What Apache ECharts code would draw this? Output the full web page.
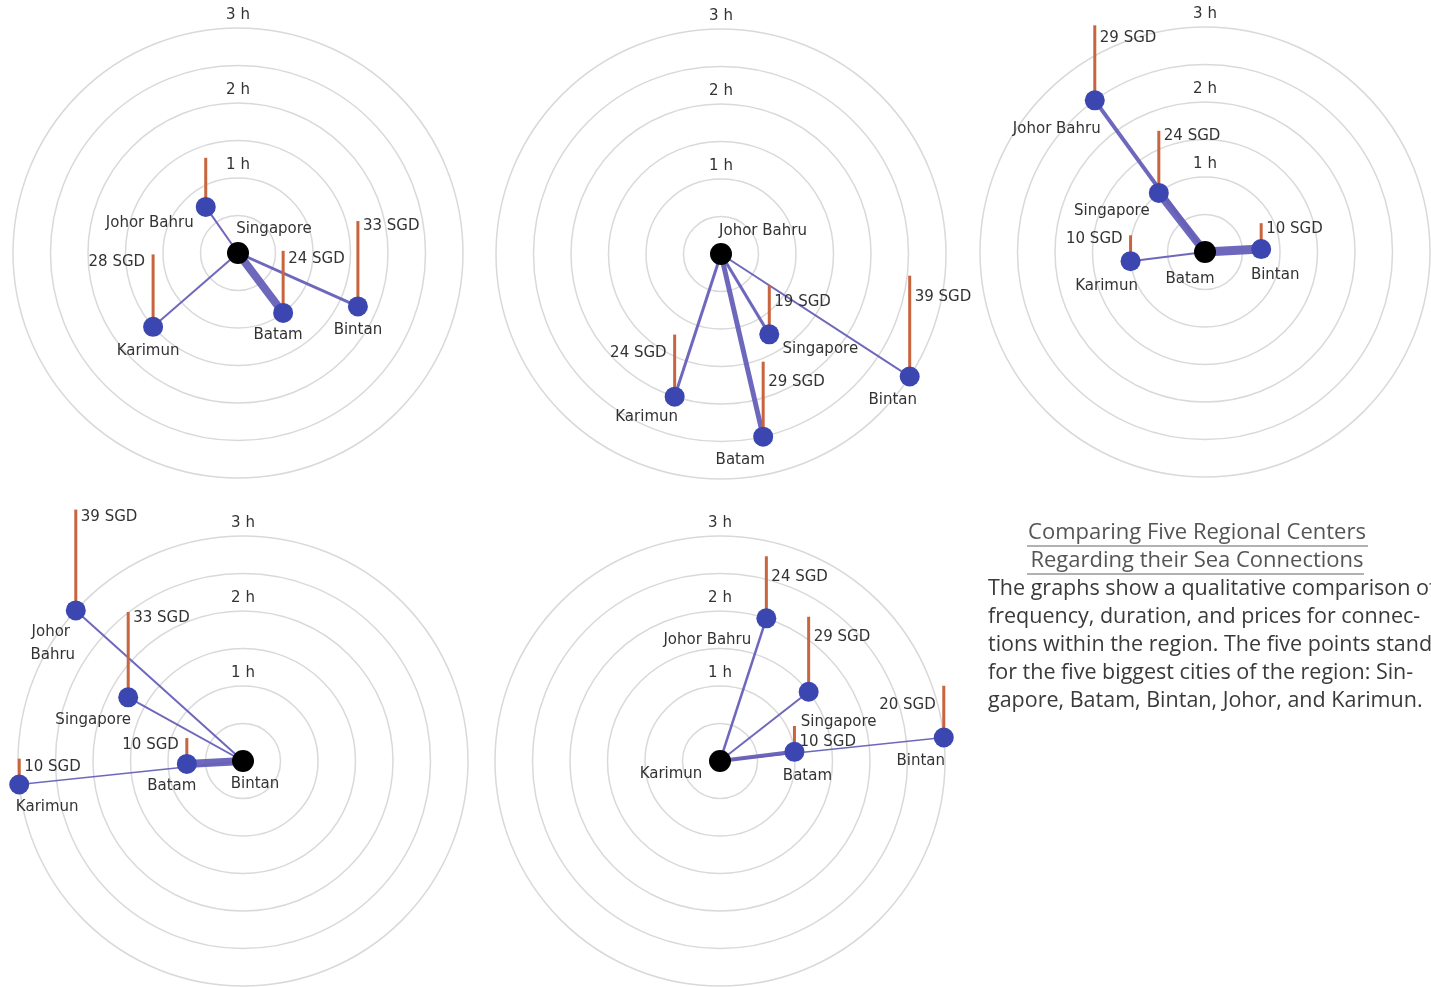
<!DOCTYPE html>
<html>
<head>
<meta charset="utf-8">
<script src="https://cdn.jsdelivr.net/npm/echarts@6/dist/echarts.min.js"></script>
<style>
  html, body { margin: 0; padding: 0; background: #ffffff; }
  #chart { width: 1431px; height: 987px; }
</style>
</head>
<body>
<div id="chart"></div>
<script>
// Ring ticks (travel time in hours)
const HOUR_TICKS = [1, 2, 3];
const HOUR_LABELS = ['1 h', '2 h', '3 h'];

// Hub order of the five panels
const HUBS = ['Singapore', 'Johor Bahru', 'Batam', 'Bintan', 'Karimun'];

// Singapore
const sgDest    = ['Johor Bahru', 'Batam', 'Bintan', 'Karimun'];
const sgHours   = [0.75, 1.0, 1.75, 1.5];
const sgBearing = [125, 307, 336, 221];
const sgFare    = [19, 24, 33, 28];
const sgFreq    = [2, 8, 3, 2];

// Johor Bahru
const jbDest    = ['Singapore', 'Batam', 'Karimun', 'Bintan'];
const jbHours   = [1.25, 2.5, 2.0, 3.0];
const jbBearing = [301, 283, 252, 327];
const jbFare    = [19, 29, 24, 39];
const jbFreq    = [3, 5, 3, 2];

// Batam
const btDest    = ['Johor Bahru', 'Singapore', 'Bintan', 'Karimun'];
const btHours   = [2.5, 1.0, 0.75, 1.0];
const btBearing = [126, 128, 3, 187];
const btFare    = [29, 24, 10, 10];
const btFreq    = [4, 8, 9, 2];

// Bintan
const bnDest    = ['Johor Bahru', 'Singapore', 'Batam', 'Karimun'];
const bnHours   = [3.0, 1.75, 0.75, 3.0];
const bnBearing = [138, 151, 183, 186];
const bnFare    = [39, 33, 10, 10];
const bnFreq    = [2, 2, 8, 1.5];

// Karimun
const krDest    = ['Johor Bahru', 'Singapore', 'Batam', 'Bintan'];
const krHours   = [2.0, 1.5, 1.0, 3.0];
const krBearing = [72, 38, 7, 6];
const krFare    = [24, 29, 10, 20];
const krFreq    = [2.5, 2, 4, 1.5];

// Fare stick height: one hour of ring radius stands for this many SGD
const SGD_PER_HOUR = 29;

const TITLE_LINES = ['Comparing Five Regional Centers', 'Regarding their Sea Connections'];
const BODY_LINES = [
  'The graphs show a qualitative comparison of',
  'frequency, duration, and prices for connec-',
  'tions within the region. The five points stand',
  'for the five biggest cities of the region: Sin-',
  'gapore, Batam, Bintan, Johor, and Karimun.'
];

// ---- layout and styling ----
const panels = [
  { hub: HUBS[0], dest: sgDest, hours: sgHours, bearing: sgBearing, fare: sgFare, freq: sgFreq,
    center: [238, 253], hubLabel: [36, -24],
    nameOff: [[-56, 16], [-5, 22], [0, 24], [-5, 24]],
    fareLab: [null, ['r', 8], ['r', 5], ['l', 8]] },
  { hub: HUBS[1], dest: jbDest, hours: jbHours, bearing: jbBearing, fare: jbFare, freq: jbFreq,
    center: [721, 254], hubLabel: [42, -23],
    nameOff: [[51, 15], [-23, 23], [-28, 20], [-17, 24]],
    fareLab: [['r', 17], ['r', 20], ['l', 19], ['r', 21]] },
  { hub: HUBS[2], dest: btDest, hours: btHours, bearing: btBearing, fare: btFare, freq: btFreq,
    center: [1205, 252], hubLabel: [-15, 27],
    nameOff: [[-38, 29], [-47, 18], [14, 26], [-24, 25]],
    fareLab: [['r', 13], ['r', 5], ['r', 6], ['l', 4]] },
  { hub: HUBS[3], dest: bnDest, hours: bnHours, bearing: bnBearing, fare: bnFare, freq: bnFreq,
    center: [243, 761], hubLabel: [12, 23],
    nameOff: [[-25, 22], [-35, 23], [-15, 22], [28, 23]],
    fareLab: [['r', 8], ['r', 6], ['l', 7], ['r', 8]] },
  { hub: HUBS[4], dest: krDest, hours: krHours, bearing: krBearing, fare: krFare, freq: krFreq,
    center: [720, 761], hubLabel: [-49, 13],
    nameOff: [[-59, 22], [30, 30], [13, 24], [-23, 24]],
    fareLab: [['r', 21], ['r', 20], ['r', 16], ['l', 19]] }
];

const RING_RADIUS = 225;
const LABEL_FONT = '15px "DejaVu Sans", sans-serif';
const LABEL_COLOR = '#333333';
const LINK_COLOR = '#6660b8';
const DOT_COLOR = '#3b46b0';
const FARE_COLOR = '#c8643e';

function textEl(x, y, text, align) {
  return {
    type: 'text', x: x, y: y,
    style: {
      text: text, font: LABEL_FONT, fill: LABEL_COLOR,
      align: align || 'center', verticalAlign: 'middle',
      textAlign: align || 'center', textVerticalAlign: 'middle',
      lineHeight: 23
    }
  };
}

const polar = [], angleAxis = [], radiusAxis = [], series = [];

panels.forEach(function (pn, i) {
  polar.push({ center: pn.center, radius: RING_RADIUS });
  angleAxis.push({ polarIndex: i, type: 'value', min: 0, max: 360, startAngle: 0, clockwise: false, show: false });
  radiusAxis.push({
    polarIndex: i, type: 'value', min: 0, max: 3, interval: 0.5,
    axisLine: { show: false }, axisTick: { show: false }, axisLabel: { show: false },
    splitLine: { show: true, lineStyle: { color: '#d9d9d9', width: 1.5 } }
  });

  const pts = pn.dest.map(function (d, k) {
    return [pn.hours[k], pn.bearing[k], pn.fare[k], pn.freq[k]];
  });

  // ring captions above the top of each full hour ring
  series.push({
    type: 'custom', coordinateSystem: 'polar', polarIndex: i, silent: true, z: 1,
    data: HOUR_TICKS.map(function (h) { return [h, 90]; }),
    renderItem: function (params, api) {
      const p = api.coord([api.value(0), api.value(1)]);
      return textEl(p[0], p[1] - 13, HOUR_LABELS[params.dataIndex]);
    }
  });

  // connections from the hub, width by frequency
  series.push({
    type: 'custom', coordinateSystem: 'polar', polarIndex: i, silent: true, z: 2,
    data: pts,
    renderItem: function (params, api) {
      const c = api.coord([0, api.value(1)]);
      const p = api.coord([api.value(0), api.value(1)]);
      return {
        type: 'line',
        shape: { x1: c[0], y1: c[1], x2: p[0], y2: p[1] },
        style: { stroke: LINK_COLOR, lineWidth: api.value(3), opacity: 0.95 }
      };
    }
  });

  // fare sticks rising from each destination
  series.push({
    type: 'custom', coordinateSystem: 'polar', polarIndex: i, silent: true, z: 3,
    data: pts,
    renderItem: function (params, api) {
      const p = api.coord([api.value(0), api.value(1)]);
      const o = api.coord([0, 0]);
      const u = api.coord([1, 0]);
      const pxPerHour = Math.hypot(u[0] - o[0], u[1] - o[1]);
      const fare = api.value(2);
      const top = p[1] - fare / SGD_PER_HOUR * pxPerHour;
      const children = [{
        type: 'line',
        shape: { x1: p[0], y1: p[1], x2: p[0], y2: top },
        style: { stroke: FARE_COLOR, lineWidth: 3 }
      }];
      const lab = pn.fareLab[params.dataIndex];
      if (lab) {
        const right = lab[0] === 'r';
        children.push(textEl(p[0] + (right ? 5 : -8), top + lab[1], fare + ' SGD', right ? 'left' : 'right'));
      }
      return { type: 'group', children: children };
    }
  });

  // destination dots
  series.push({
    type: 'scatter', coordinateSystem: 'polar', polarIndex: i, silent: true, z: 4,
    symbolSize: 20, itemStyle: { color: DOT_COLOR, opacity: 1 },
    data: pts.map(function (d) { return [d[0], d[1]]; })
  });

  // hub dot
  series.push({
    type: 'scatter', coordinateSystem: 'polar', polarIndex: i, silent: true, z: 4,
    symbolSize: 22, itemStyle: { color: '#000000', opacity: 1 },
    data: [[0, 0]]
  });

  // city names
  series.push({
    type: 'custom', coordinateSystem: 'polar', polarIndex: i, silent: true, z: 5,
    data: pts.map(function (d) { return [d[0], d[1]]; }).concat([[0, 0]]),
    renderItem: function (params, api) {
      const p = api.coord([api.value(0), api.value(1)]);
      const k = params.dataIndex;
      const isHub = k === pn.dest.length;
      const off = isHub ? pn.hubLabel : pn.nameOff[k];
      const name = isHub ? pn.hub : pn.dest[k];
      if (!isHub && pn.hub === 'Bintan' && name === 'Johor Bahru') {
        // stacked on two lines in this panel
        return {
          type: 'group', children: [
            textEl(p[0] + off[0], p[1] + off[1], 'Johor'),
            textEl(p[0] + off[0] + 2, p[1] + off[1] + 23, 'Bahru')
          ]
        };
      }
      return textEl(p[0] + off[0], p[1] + off[1], name);
    }
  });
});

// Text block on the right
const graphic = [];
const TITLE_Y = [533, 561];
TITLE_LINES.forEach(function (t, k) {
  graphic.push({
    type: 'text', x: 1197, y: TITLE_Y[k],
    style: {
      text: t, font: '22px "Open Sans", sans-serif', fill: '#555555',
      align: 'center', verticalAlign: 'middle', textAlign: 'center', textVerticalAlign: 'middle'
    }
  });
});
graphic.push({ type: 'line', shape: { x1: 1027, y1: 546, x2: 1368, y2: 546 }, style: { stroke: '#666666', lineWidth: 1.2 } });
graphic.push({ type: 'line', shape: { x1: 1027, y1: 574, x2: 1364, y2: 574 }, style: { stroke: '#666666', lineWidth: 1.2 } });
BODY_LINES.forEach(function (t, k) {
  graphic.push({
    type: 'text', x: 988, y: 589 + k * 28,
    style: {
      text: t, font: '21.5px "Open Sans", sans-serif', fill: '#3a3a3a',
      align: 'left', verticalAlign: 'middle', textAlign: 'left', textVerticalAlign: 'middle'
    }
  });
});

const chart = echarts.init(document.getElementById('chart'), null, { renderer: 'canvas' });
chart.setOption({
  backgroundColor: '#ffffff',
  animation: false,
  polar: polar,
  angleAxis: angleAxis,
  radiusAxis: radiusAxis,
  series: series,
  graphic: graphic
});
</script>
</body>
</html>
